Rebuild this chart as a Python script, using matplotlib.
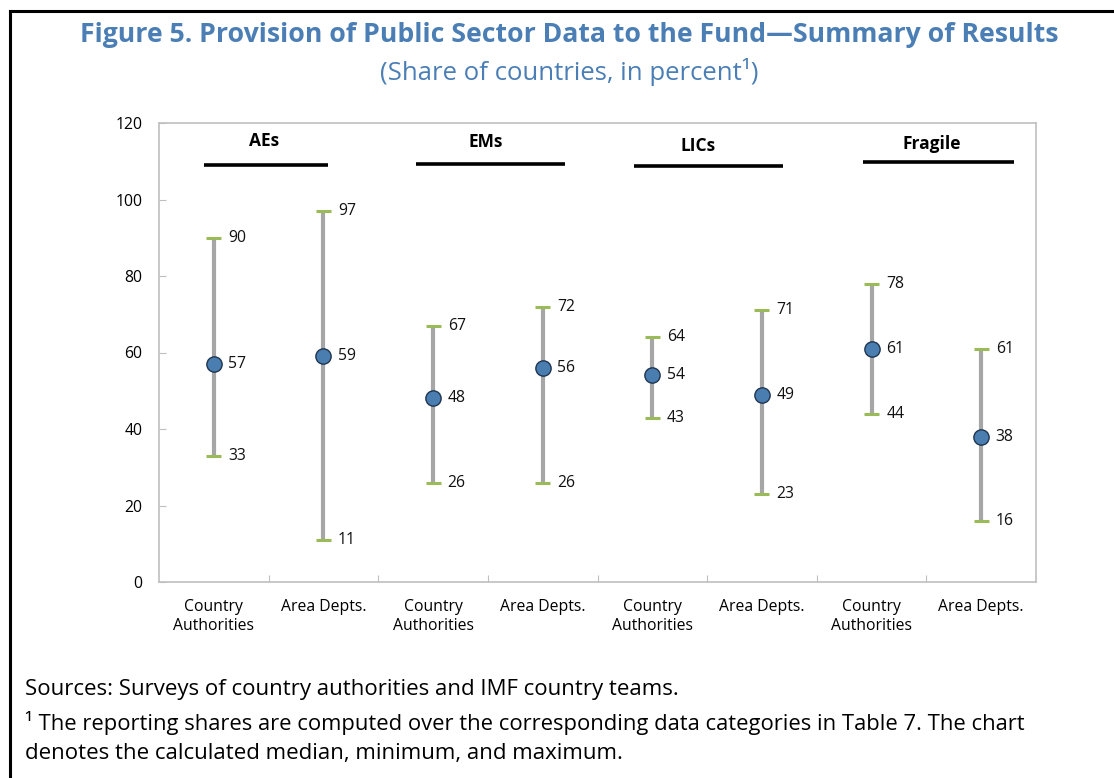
import matplotlib
matplotlib.use("Agg")
import matplotlib.pyplot as plt
from matplotlib.lines import Line2D

# ---------------- data ----------------
categories = ["Country\nAuthorities", "Area Depts.", "Country\nAuthorities", "Area Depts.",
              "Country\nAuthorities", "Area Depts.", "Country\nAuthorities", "Area Depts."]
groups = ["AEs", "EMs", "LICs", "Fragile"]
median_vals = [57, 59, 48, 56, 54, 49, 61, 38]
min_vals = [33, 11, 26, 26, 43, 23, 44, 16]
max_vals = [90, 97, 67, 72, 64, 71, 78, 61]
yticks = [0, 20, 40, 60, 80, 100, 120]

# ---------------- layout / style ----------------
# header annotations (x centre, y) and underline extents (x0, x1, y), in data units
header_text_pos = [(0.46, 115.3), (2.48, 115.0), (4.42, 114.0), (6.55, 114.5)]
header_line_pos = [(-0.09, 1.04, 108.9), (1.84, 3.20, 109.3), (3.83, 5.19, 108.8), (5.92, 7.30, 109.8)]

FONT = "Open Sans"
plt.rcParams["font.family"] = [FONT, "DejaVu Sans"]
BLUE_T = "#4A7EB5"
MARK = "#4A7EB0"
GRAY = "#A6A6A6"
GREEN = "#9BBB59"
SPINE = "#BFBFBF"

fig = plt.figure(figsize=(11.14, 7.78), dpi=100)
ax = fig.add_axes([159 / 1114, 1 - 582 / 778, (1036 - 159) / 1114, (582 - 123) / 778])

x = list(range(len(categories)))
ax.vlines(x, min_vals, max_vals, color=GRAY, lw=3.0, zorder=2)
cap = 0.068
ax.hlines(min_vals, [i - cap for i in x], [i + cap for i in x], color=GREEN, lw=2.2, zorder=3)
ax.hlines(max_vals, [i - cap for i in x], [i + cap for i in x], color=GREEN, lw=2.2, zorder=3)
ax.plot(x, median_vals, "o", ms=11, mfc=MARK, mec="#1F3550", mew=1.0, zorder=4, ls="none")

for i in x:
    for v in (median_vals[i], min_vals[i], max_vals[i]):
        ax.annotate(f"{v}", (i, v), xytext=(10.5, 0), textcoords="offset points",
                    ha="left", va="center", fontsize=11.3, color="#111111")

# group headers
for name, (tx, ty), (lx0, lx1, ly) in zip(groups, header_text_pos, header_line_pos):
    ax.text(tx, ty, name, ha="center", va="center", fontsize=12.5, fontweight="bold", color="black")
    ax.plot([lx0, lx1], [ly, ly], color="black", lw=2.6, solid_capstyle="butt")

ax.set_xlim(-0.5, len(categories) - 0.5)
ax.set_ylim(0, 120)
ax.set_yticks(yticks)
ax.set_yticklabels([str(t) for t in yticks], fontsize=11.3)
ax.set_xticks([i + 0.5 for i in x[:-1]])
ax.set_xticklabels([])
ax.set_xticks(x, minor=True)
ax.set_xticklabels(categories, minor=True, fontsize=11.3, linespacing=1.25)
ax.tick_params(axis="x", which="minor", length=0, pad=12)
ax.tick_params(axis="x", which="major", direction="in", length=5, color=SPINE)
ax.tick_params(axis="y", direction="in", length=5, color=SPINE, pad=12)
for s in ax.spines.values():
    s.set_color(SPINE)
    s.set_linewidth(1.2)

# titles
fig.text(569 / 1114, 1 - 35 / 778, "Figure 5. Provision of Public Sector Data to the Fund\u2014Summary of Results",
         ha="center", va="center", fontsize=19.2, fontweight="bold", color=BLUE_T)
fig.text(569 / 1114, 1 - 72 / 778, "(Share of countries, in percent\u00b9)",
         ha="center", va="center", fontsize=18.5, color=BLUE_T)

# footnotes
fig.text(25 / 1114, 1 - 690 / 778, "Sources: Surveys of country authorities and IMF country teams.",
         ha="left", va="center", fontsize=16.0, color="black")
fig.text(25 / 1114, 1 - 723 / 778,
         "\u00b9 The reporting shares are computed over the corresponding data categories in Table 7. The chart",
         ha="left", va="center", fontsize=15.8, color="black")
fig.text(25 / 1114, 1 - 753 / 778, "denotes the calculated median, minimum, and maximum.",
         ha="left", va="center", fontsize=16.0, color="black")

# frame
fig.add_artist(Line2D([10 / 1114, 1.0], [1 - 11 / 778, 1 - 11 / 778], color="black", lw=2.2,
                      transform=fig.transFigure))
fig.add_artist(Line2D([10 / 1114, 10 / 1114], [0, 1 - 11 / 778], color="black", lw=2.2,
                      transform=fig.transFigure))

fig.savefig("out.png", dpi=100)
